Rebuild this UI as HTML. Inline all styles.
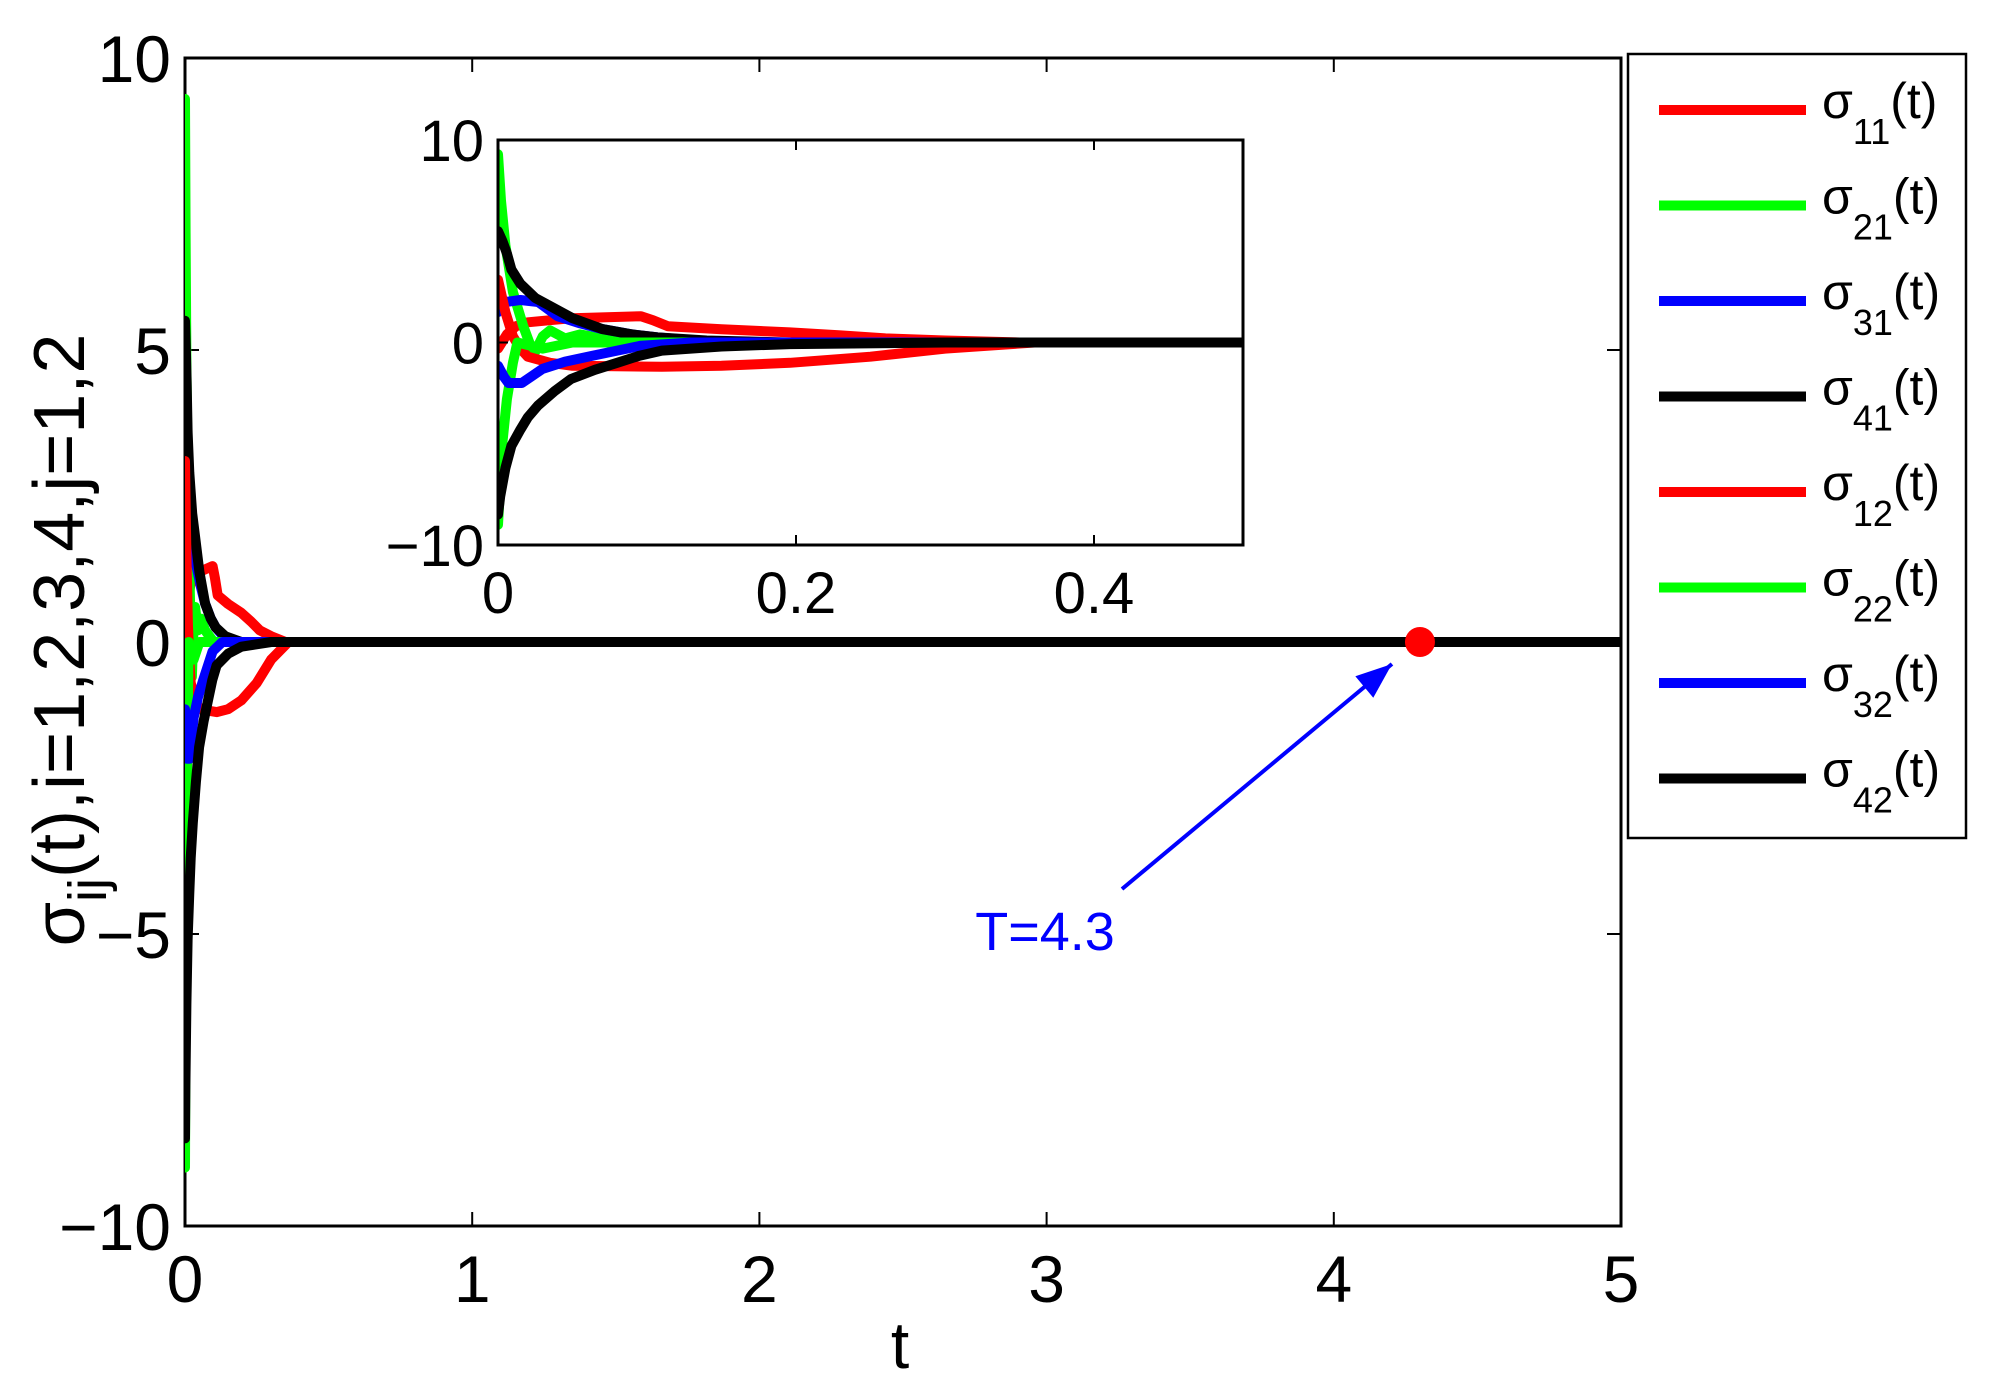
<!DOCTYPE html>
<html><head><meta charset="utf-8">
<style>
html,body{margin:0;padding:0;background:#fff;}
svg{display:block;font-family:"Liberation Sans",sans-serif;}
</style></head>
<body>
<svg id="chart" width="1995" height="1396" viewBox="0 0 1995 1396" xmlns="http://www.w3.org/2000/svg">
<defs>
<clipPath id="clipMain"><rect x="185" y="58" width="1436" height="1168"/></clipPath>
<clipPath id="clipInset"><rect x="498" y="140" width="745" height="405"/></clipPath>
</defs>
<rect x="0" y="0" width="1995" height="1396" fill="#fff"/>
<g id="mainAxes"></g>
<g id="mainSeries" clip-path="url(#clipMain)"></g>
<g id="annot"></g>
<rect x="498" y="140" width="745" height="405" fill="#fff"/>
<g id="insetSeries" clip-path="url(#clipInset)"></g>
<g id="insetAxes"></g>
<g id="legend"></g>
<text x="900" y="1368" font-size="66" text-anchor="middle">t</text>
<text transform="translate(84,640) rotate(-90)" font-size="72" text-anchor="middle">σ<tspan font-size="54" dy="22">ij</tspan><tspan dy="-22">(t),i=1,2,3,4,j=1,2</tspan></text>
</svg>
<script>
// ---- data ----
const seriesSubs = ["11","21","31","41","12","22","32","42"];
const seriesColors = ["#ff0000","#00ff00","#0000ff","#000000","#ff0000","#00ff00","#0000ff","#000000"];
const tS11 = [0,0.006,0.012,0.02,0.035,0.05,0.096,0.104,0.114,0.15,0.196,0.23,0.26,0.3,0.35,5];
const vS11 = [-0.3,0.4,0.8,1.0,1.1,1.2,1.3,1.1,0.8,0.65,0.5,0.35,0.2,0.1,0,0];
const tS21 = [0,0.002,0.005,0.01,0.017,0.024,0.03,0.035,0.045,0.055,0.07,0.1,5];
const vS21 = [9.3,7,4.8,2.5,0.8,-0.6,0.3,0.6,0.2,0.4,0.2,0,0];
const tS31 = [0,0.005,0.015,0.027,0.04,0.055,0.07,0.09,0.107,0.13,0.16,5];
const vS31 = [1.5,2.0,2.1,2.0,1.3,0.95,0.66,0.4,0.25,0.12,0,0];
const tS41 = [0,0.003,0.006,0.009,0.015,0.025,0.035,0.05,0.07,0.09,0.107,0.14,0.196,5];
const vS41 = [5.5,5.0,4.4,3.6,2.9,2.2,1.8,1.2,0.66,0.4,0.25,0.1,0,0];
const tS12 = [0,0.005,0.01,0.015,0.02,0.035,0.05,0.11,0.15,0.196,0.25,0.3,0.36,5];
const vS12 = [3.1,1.5,0.3,-0.3,-0.7,-1.0,-1.15,-1.2,-1.15,-1.0,-0.7,-0.3,0,0];
const tS22 = [0,0.0015,0.003,0.006,0.01,0.013,0.03,0.05,5];
const vS22 = [-9.0,-7.0,-4.9,-2.8,-1.0,0,-0.3,0,0];
const tS32 = [0,0.004,0.007,0.016,0.022,0.03,0.045,0.063,0.08,0.096,0.13,5];
const vS32 = [-1.15,-1.7,-2.0,-2.0,-1.7,-1.3,-0.95,-0.66,-0.4,-0.16,0,0];
const tS42 = [0,0.0015,0.005,0.009,0.015,0.02,0.027,0.038,0.049,0.065,0.08,0.095,0.11,0.15,0.196,0.3,5];
const vS42 = [-8.5,-7.6,-6.2,-5.1,-4.3,-3.7,-3.1,-2.4,-1.8,-1.35,-1.0,-0.65,-0.4,-0.2,-0.08,0,0];
const seriesT = [tS11,tS21,tS31,tS41,tS12,tS22,tS32,tS42];
const seriesV = [vS11,vS21,vS31,vS41,vS12,vS22,vS32,vS42];
const mainXTicks = [0,1,2,3,4,5];
const mainYTicks = [-10,-5,0,5,10];
const insetXTicks = [0,0.2,0.4];
const insetXLabels = ["0","0.2","0.4"];
const insetYTicks = [-10,0,10];
const markerT = 4.3;
const markerV = 0;
const annotationText = "T=4.3";

const NS = "http://www.w3.org/2000/svg";
function mk(tag, attrs, parent){const e=document.createElementNS(NS,tag);for(const k in attrs)e.setAttribute(k,attrs[k]);parent.appendChild(e);return e;}

const M = {x0:185,x1:1621,y0:58,y1:1226,tmin:0,tmax:5,vmin:-10,vmax:10};
const I = {x0:498,x1:1243,y0:140,y1:545,tmin:0,tmax:0.5,vmin:-10,vmax:10};
function sx(A,t){return A.x0+(t-A.tmin)/(A.tmax-A.tmin)*(A.x1-A.x0);}
function sy(A,v){return A.y1-(v-A.vmin)/(A.vmax-A.vmin)*(A.y1-A.y0);}

function drawAxes(A, g, xt, xl, yt, fs, tickLen, xlabOff){
  const box=mk("rect",{x:A.x0,y:A.y0,width:A.x1-A.x0,height:A.y1-A.y0,fill:"none",stroke:"#000","stroke-width":3},g);
  
  
  xt.forEach((t,i)=>{
    const x=sx(A,t);
    mk("line",{x1:x,y1:A.y1,x2:x,y2:A.y1-tickLen,stroke:"#000","stroke-width":2},g);
    mk("line",{x1:x,y1:A.y0,x2:x,y2:A.y0+tickLen,stroke:"#000","stroke-width":2},g);
    const tx=mk("text",{x:x,y:A.y1+xlabOff,"font-size":fs,"text-anchor":"middle"},g);
    tx.textContent=xl[i];
    
    
  });
  yt.forEach(v=>{
    const y=sy(A,v);
    mk("line",{x1:A.x0,y1:y,x2:A.x0+tickLen,y2:y,stroke:"#000","stroke-width":2},g);
    mk("line",{x1:A.x1,y1:y,x2:A.x1-tickLen,y2:y,stroke:"#000","stroke-width":2},g);
    const ty=mk("text",{x:A.x0-14,y:y+fs*0.36,"font-size":fs,"text-anchor":"end"},g);
    ty.textContent=(v<0?"\u2212"+(-v):String(v));
    
    
  });
}

function drawSeries(A, g, w){
  seriesT.forEach((ts,i)=>{
    const vs=seriesV[i];
    const pts=ts.map((t,j)=>sx(A,t).toFixed(1)+","+sy(A,vs[j]).toFixed(1)).join(" ");
    const p=mk("polyline",{points:pts,fill:"none",stroke:seriesColors[i],"stroke-width":w,"stroke-linejoin":"round","stroke-linecap":"round"},g);
    
    
  });
}

drawAxes(M, document.getElementById("mainAxes"), mainXTicks, mainXTicks.map(String), mainYTicks, 66, 14, 76);
drawSeries(M, document.getElementById("mainSeries"), 10);
drawSeries(I, document.getElementById("insetSeries"), 10);
drawAxes(I, document.getElementById("insetAxes"), insetXTicks, insetXLabels, insetYTicks, 58, 10, 68);

const ag=document.getElementById("annot");
const mx=sx(M,markerT), my=sy(M,markerV);
const ax1=1122, ay1=889, ax2=mx-28, ay2=my+22;
const arr=mk("line",{x1:ax1,y1:ay1,x2:ax2,y2:ay2,stroke:"#0000ff","stroke-width":4},ag);


const ang=Math.atan2(ay2-ay1,ax2-ax1);
const hl=36, hw=14;
const bx=ax2-hl*Math.cos(ang), by=ay2-hl*Math.sin(ang);
const head=mk("polygon",{points:`${ax2},${ay2} ${bx+hw*Math.sin(ang)},${by-hw*Math.cos(ang)} ${bx-hw*Math.sin(ang)},${by+hw*Math.cos(ang)}`,fill:"#0000ff"},ag);


const dot=mk("circle",{cx:mx,cy:my,r:15,fill:"#ff0000"},ag);


const at=mk("text",{x:1045,y:950,"font-size":54,"text-anchor":"middle",fill:"#0000ff"},ag);
at.textContent=annotationText;



const lg=document.getElementById("legend");
const lb=mk("rect",{x:1628,y:54,width:338,height:784,fill:"#fff",stroke:"#000","stroke-width":2.5},lg);


seriesSubs.forEach((s,i)=>{
  const y=110+95.5*i;
  const e=mk("g",{},lg);
  
  
  mk("line",{x1:1659,y1:y,x2:1806,y2:y,stroke:seriesColors[i],"stroke-width":10},e);
  const t=mk("text",{x:1822,y:y+8,"font-size":50},e);
  t.innerHTML='σ<tspan font-size="36" dy="26">'+s+'</tspan><tspan font-size="50" dy="-26">(t)</tspan>';
});
</script>
</body></html>
